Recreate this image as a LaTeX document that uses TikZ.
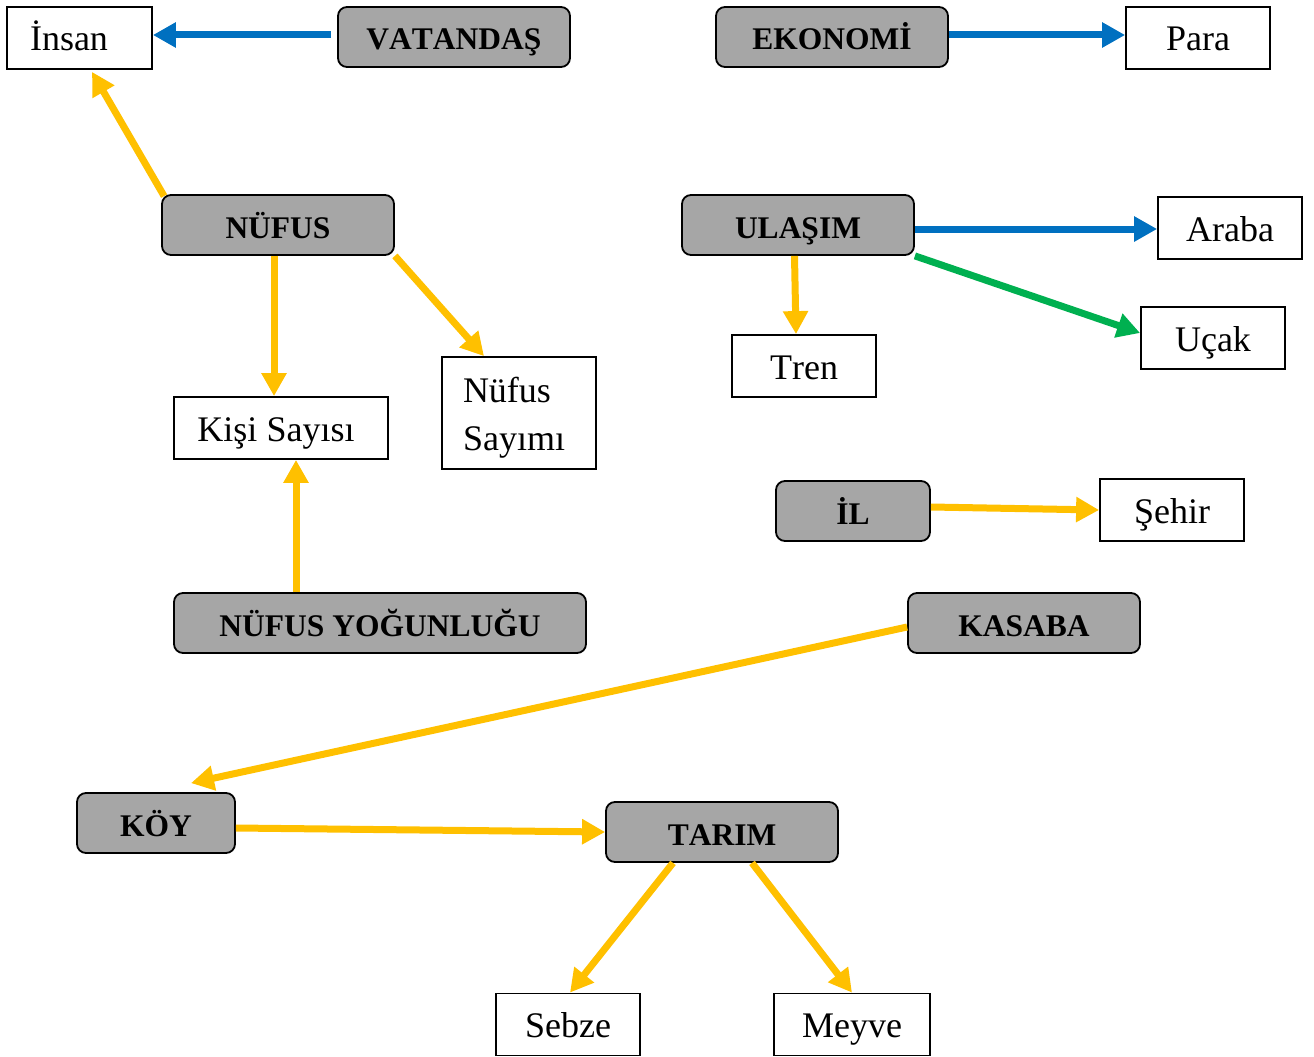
\documentclass[tikz,border=0pt]{standalone}
\usepackage{fontspec}
\setmainfont[Kerning=Off]{Liberation Serif}
\usetikzlibrary{arrows.meta}
\definecolor{cyellow}{HTML}{FFC000}
\definecolor{cblue}{HTML}{0070C0}
\definecolor{cgreen}{HTML}{00B050}
\definecolor{cgray}{HTML}{A6A6A6}
\begin{document}
\begin{tikzpicture}[x=1pt,y=-1pt,
  concept/.style={draw=black, line width=1.8pt, fill=cgray, rounded corners=9pt, inner sep=0pt,
    minimum height=60pt, font=\fontsize{31.5}{38}\selectfont\bfseries, text height=26pt, text depth=0pt},
  leafbase/.style={draw=black, line width=1.8pt, fill=white, inner sep=0pt,
    minimum height=62pt, font=\fontsize{36}{48}\selectfont},
  leaf/.style={leafbase, text height=26pt, text depth=0pt},
  arrowlink/.style={line width=7pt, -{Triangle[length=23pt,width=24pt]}},
]
\useasboundingbox (0,0) rectangle (1314,1057);

% concept boxes
\node[concept, minimum width=232pt] (vat)    at (454,37)  {VATANDAŞ};
\node[concept, minimum width=232pt] (eko)    at (832,37)  {EKONOMİ};
\node[concept, minimum width=232pt] (nufus)  at (278,225) {NÜFUS};
\node[concept, minimum width=232pt] (ulasim) at (798,225) {ULAŞIM};
\node[concept, minimum width=154pt] (il)     at (853,511) {İL};
\node[concept, minimum width=412pt] (yog)    at (380,623) {NÜFUS YOĞUNLUĞU};
\node[concept, minimum width=232pt] (kasaba) at (1024,623) {KASABA};
\node[concept, minimum width=158pt] (koy)    at (156,823) {KÖY};
\node[concept, minimum width=232pt] (tarim)  at (722,832) {TARIM};

% leaf boxes
\node[leaf, minimum width=145pt] (insan) at (79.5,38) {İnsan\kern21pt};
\node[leaf, minimum width=144pt] (para)  at (1198,38) {Para};
\node[leaf, minimum width=144pt] (araba) at (1230,228) {Araba};
\node[leaf, minimum width=144pt] (ucak)  at (1213,338) {Uçak};
\node[leaf, minimum width=144pt] (tren)  at (804,366) {Tren};
\node[leaf, minimum width=214pt] (kisi)  at (281,428) {Kişi Sayısı\kern10pt};
\node[leafbase, minimum width=154pt, minimum height=112pt, text width=112pt, align=left] (sayim) at (519,413) {\rule{0pt}{34.6pt}Nüfus\\Sayımı};
\node[leaf, minimum width=144pt] (sehir) at (1172,510) {Şehir};
\node[leaf, minimum width=144pt] (sebze) at (568,1024.5) {Sebze};
\node[leaf, minimum width=156pt] (meyve) at (852,1024.5) {Meyve};

% connectors
\draw[arrowlink, cblue] ([xshift=-6pt,yshift=2pt]vat.west) -- ([yshift=3pt]insan.east);
\draw[arrowlink, cblue] ([yshift=2pt]eko.east) -- ([yshift=3pt]para.west);
\draw[arrowlink, cyellow] ([xshift=3pt,yshift=-2pt]nufus.north west) -- ([xshift=12.5pt,yshift=-2pt]insan.south);
\draw[arrowlink, cyellow] ([xshift=-4pt]nufus.south) -- ([xshift=-7pt]kisi.north);
\draw[arrowlink, cyellow] (nufus.south east) -- ([xshift=-35pt]sayim.north);
\draw[arrowlink, cyellow] ([xshift=-84pt]yog.north) -- ([xshift=15pt]kisi.south);
\draw[arrowlink, cblue] ([yshift=-4pt]ulasim.east) -- ([yshift=-1pt]araba.west);
\draw[arrowlink, cgreen] (ulasim.south east) -- ([yshift=5pt]ucak.west);
\draw[arrowlink, cyellow] ([xshift=-3.5pt]ulasim.south) -- ([xshift=-8pt]tren.north);
\draw[arrowlink, cyellow] ([yshift=4pt]il.east) -- (sehir.west);
\draw[arrowlink, cyellow] ([yshift=-4pt]kasaba.west) -- ([xshift=35pt,yshift=9pt]koy.north);
\draw[arrowlink, cyellow] ([yshift=-5pt]koy.east) -- (tarim.west);
\draw[arrowlink, cyellow] ([xshift=-49pt]tarim.south) -- ([xshift=2pt]sebze.north);
\draw[arrowlink, cyellow] ([xshift=30pt]tarim.south) -- (meyve.north);
\end{tikzpicture}
\end{document}
